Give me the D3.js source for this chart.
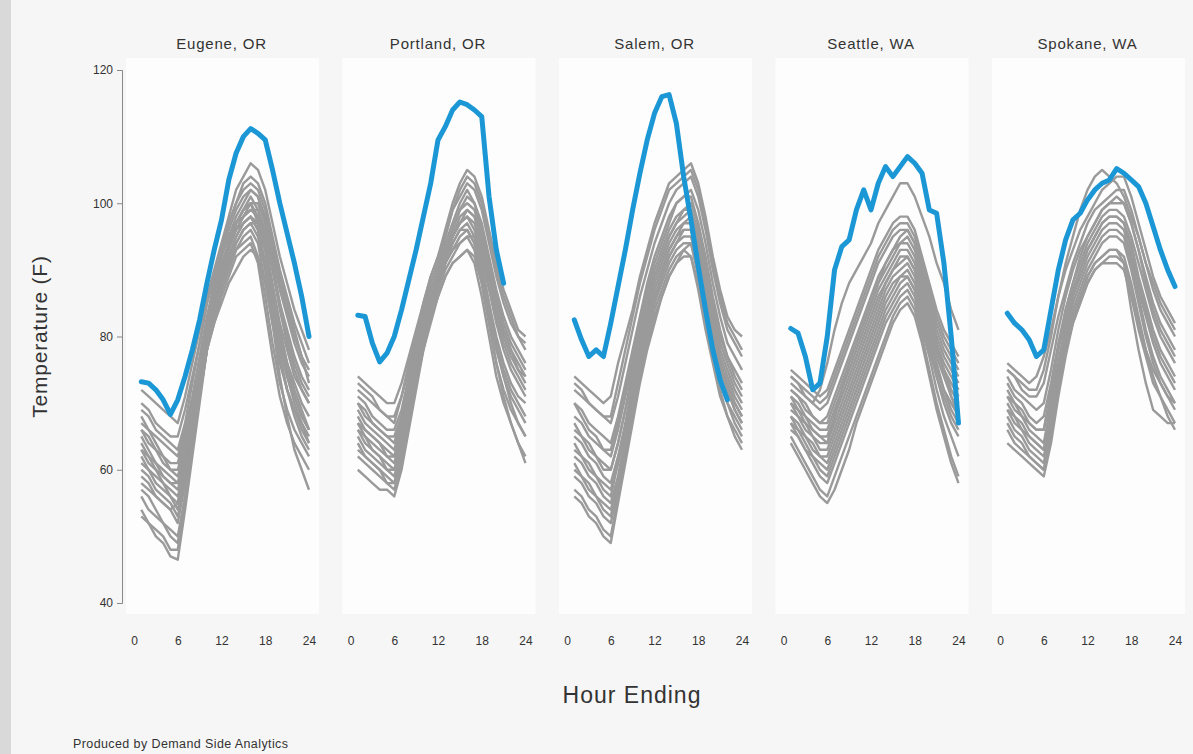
<!DOCTYPE html>
<html>
<head>
<meta charset="utf-8">
<script src="https://cdn.jsdelivr.net/npm/d3@7"></script>
<style>
  body { margin: 0; background: #f6f6f6; }
  svg text { font-family: "Liberation Sans", Arial, sans-serif; fill: #333; }
</style>
</head>
<body>
<div id="chart"></div>
<script>
/* hourly temperatures (F), hour ending 1..24 */
const cities = ["Eugene, OR", "Portland, OR", "Salem, OR", "Seattle, WA", "Spokane, WA"];
const xTicks = [0, 6, 12, 18, 24];
const yTicks = [40, 60, 80, 100, 120];

/* heat wave day (blue) */
const eugeneHeat = [73.2,73,72,70.5,68.3,70.5,74,78,82.5,88,93,97.5,103.5,107.5,110,111.2,110.5,109.5,105,100,95.5,91,86,80];
const portlandHeat = [83.2,83,79,76.2,77.5,80,84,88.5,93,98,103,109.5,111.5,114,115.2,114.8,114,113,101,93,88];
const salemHeat = [82.5,79.5,77,78,77,82,87.5,93,99,104.5,109.5,113.5,116,116.3,112,104,97.5,90.5,84,78,73.5,70.5];
const seattleHeat = [81.2,80.5,77,72,73,80,90,93.5,94.5,99,102,99,103,105.5,104,105.5,107,106,104.5,99,98.5,91,80,67];
const spokaneHeat = [83.5,82,81,79.5,77,78,84,90,94.5,97.5,98.5,100.5,102,103,103.5,105.2,104.5,103.5,102.5,100,96.5,93,90,87.5];

/* other summer days (grey) */
const eugeneDays = [
  [72,71,70,69,68,67,71,76,81,86,90,94,98,102,104,106,105,102,97,92,88,84,81,78],
  [70,69,67,66,65,65,69,74,79,85,89,93,97,100,103,104,103,100,95,90,86,82,79,76],
  [68,66,65,64,63,62,66,71,77,83,88,92,96,99,101,102,101,98,93,88,84,80,77,75],
  [67,66,64,62,61,61,65,70,75,81,86,90,94,97,99,101,99,95,90,85,81,77,74,72],
  [66,64,63,62,60,60,64,69,75,81,86,90,94,97,99,100,100,97,92,87,83,79,76,74],
  [65,63,61,60,59,58,62,67,73,80,85,89,93,96,98,99,98,94,88,82,78,74,72,70],
  [64,62,61,59,58,57,61,67,73,79,84,88,92,95,97,98,97,93,87,81,76,73,70,68],
  [63,61,60,58,57,56,60,66,72,79,84,88,91,94,96,97,95,90,84,78,74,71,68,66],
  [62,60,59,58,56,55,60,66,72,78,83,87,90,93,95,96,94,88,82,76,72,69,67,65],
  [61,60,58,57,56,54,59,65,71,78,83,87,90,93,94,95,92,86,79,73,69,66,64,62],
  [60,59,57,56,55,53,58,65,71,78,82,86,89,92,93,94,91,84,77,71,67,64,62,60],
  [58,57,56,55,54,52,58,65,72,79,85,90,94,97,99,100,97,90,82,74,68,63,60,57],
  [54,52,51,50,48,48,55,63,71,78,82,85,88,90,92,93,92,88,82,77,72,68,65,63],
  [53,52,50,49,47,46.5,54,62,70,78,84,88,91,94,96,97,97,93,87,81,76,72,69,66],
  [69,68,66,65,64,63,67,73,79,85,89,93,97,100,102,103,102,99,94,89,85,81,77,73],
  [57,56,54,52,51,50,56,64,72,80,86,90,94,97,98,99,99,96,90,84,79,75,72,70],
  [66,65,63,61,60,59,63,69,75,82,87,91,94,96,97,98,96,91,84,77,72,69,66,64],
  [59,58,56,55,54,55,60,66,73,80,86,90,94,96,98,100,98,93,86,80,75,71,68,66],
  [63,62,60,59,58,58,62,68,75,82,88,92,95,98,100,102,101,97,91,85,80,76,73,71],
  [56,54,53,52,50,49,56,64,72,79,84,88,92,95,97,98,96,91,85,79,74,70,67,64]
];
const portlandDays = [
  [74,73,72,71,70,70,73,77,81,85,89,92,96,100,103,105,104,101,96,91,87,84,81,80],
  [72,71,70,69,68,68,71,75,80,84,88,91,95,99,101,103,102,99,94,89,85,82,80,78],
  [71,70,68,67,66,66,69,74,79,83,87,90,94,97,100,102,100,96,91,86,82,79,77,75],
  [70,69,67,66,65,64,68,73,78,83,87,90,93,96,99,100,99,95,90,85,81,78,76,74],
  [69,67,66,65,64,63,67,72,77,82,86,89,92,95,98,99,98,94,89,84,80,77,75,73],
  [68,66,65,64,63,62,66,71,76,81,85,89,92,95,97,98,96,92,87,82,78,75,73,71],
  [67,65,64,63,62,61,65,70,76,81,85,88,91,94,96,97,95,90,85,80,76,73,71,70],
  [66,64,63,62,61,60,64,69,75,80,84,88,91,93,95,96,94,89,83,78,74,71,69,67],
  [65,63,62,61,60,59,63,69,75,80,84,87,90,92,94,95,93,88,82,76,72,69,67,65],
  [64,62,61,60,59,58,62,68,74,79,83,86,89,91,92,93,91,86,80,74,70,67,64,62],
  [62,61,60,59,58,57,61,67,73,78,82,86,89,91,92,93,92,88,82,76,71,67,64,61],
  [60,59,58,57,57,56,60,66,72,78,83,87,91,93,94,95,95,91,85,79,74,70,67,65],
  [73,72,71,69,68,67,71,76,80,85,89,92,95,99,102,104,103,100,95,90,86,83,80,79],
  [66,65,63,62,60,60,64,70,76,81,85,89,92,95,97,98,97,93,88,83,79,76,74,72],
  [63,62,61,60,58,58,62,68,74,79,83,87,91,94,96,96,94,89,84,79,75,72,70,68],
  [70,68,67,66,65,65,68,73,78,83,87,90,93,96,99,101,100,97,92,87,83,80,78,76],
  [67,66,65,64,62,62,66,71,77,82,86,89,92,95,97,99,98,95,90,85,81,78,75,74]
];
const salemDays = [
  [74,73,72,71,70,71,76,80,84,89,93,97,100,103,104,105,106,103,98,92,87,83,81,80],
  [72,71,70,69,68,67,71,76,81,86,90,94,97,100,102,103,104,101,96,90,85,81,79,77],
  [70,69,67,66,65,64,68,73,78,83,88,92,95,98,100,101,102,99,94,88,83,79,77,75],
  [68,67,65,64,63,62,66,71,76,81,86,90,93,96,98,99,100,97,92,86,81,77,75,73],
  [67,65,64,62,61,60,64,69,74,80,85,89,92,95,97,98,99,96,90,84,79,76,73,71],
  [65,64,62,61,59,58,62,67,73,79,84,88,91,94,96,97,98,94,88,82,77,74,71,69],
  [64,62,61,59,58,57,61,66,72,78,83,87,90,93,95,96,96,92,86,80,75,72,69,67],
  [62,61,59,58,56,55,59,65,71,77,82,86,89,92,94,95,95,91,85,79,74,70,67,65],
  [61,59,58,56,55,54,58,64,70,76,81,85,88,91,93,94,94,89,83,77,72,68,65,63],
  [59,58,56,55,53,52,57,63,69,75,80,84,87,90,92,93,92,87,81,76,71,68,66,64],
  [57,56,54,53,51,50,56,62,68,74,79,83,86,89,91,92,92,88,82,77,73,70,68,66],
  [56,55,53,52,50,49,55,61,67,73,78,82,86,89,91,93,94,90,85,80,76,73,70,68],
  [73,72,70,69,68,68,73,78,83,88,92,96,99,102,103,104,105,102,97,91,86,82,80,78],
  [70,68,66,65,63,63,67,72,77,82,87,91,94,97,100,101,101,97,91,85,80,77,74,72],
  [66,65,63,62,60,60,64,69,75,80,85,89,92,95,97,99,99,95,89,83,78,75,72,70],
  [63,62,60,59,57,56,61,66,72,78,83,87,90,93,95,97,97,93,87,81,76,73,70,68],
  [60,59,57,56,54,53,58,64,70,76,81,85,89,92,94,96,96,92,86,80,76,72,69,67]
];
const seattleDays = [
  [74,73,71,70,72,76,81,85,88,90,92,94,97,99,101,103,103,101,98,95,91,88,84,81],
  [75,74,73,72,71,72,75,78,81,84,87,90,93,95,97,98,98,96,92,88,84,81,79,77],
  [73,72,71,70,69,70,73,76,79,82,85,88,91,93,95,96,96,94,90,86,82,79,77,75],
  [72,71,70,68,67,68,71,74,77,80,83,86,89,91,93,94,95,93,89,85,81,78,76,74],
  [71,70,68,67,66,66,69,72,75,78,81,84,87,89,91,93,93,91,87,83,79,76,74,72],
  [70,69,67,66,65,65,68,71,74,77,80,83,86,88,90,92,92,90,86,82,78,75,72,70],
  [69,68,66,65,63,63,66,69,72,75,78,81,84,87,89,90,91,89,85,81,77,74,71,69],
  [68,67,65,63,62,62,65,68,71,74,77,80,83,86,88,89,90,88,84,80,76,72,69,67],
  [67,66,64,62,61,60,63,66,69,72,75,78,81,84,86,88,89,87,83,79,74,70,67,65],
  [66,65,63,61,59,58,61,64,67,70,73,76,79,82,84,86,87,85,81,77,72,68,65,62],
  [65,63,61,59,57,56,59,62,65,68,71,74,77,80,83,85,86,84,80,75,70,66,62,59],
  [64,62,60,58,56,55,57,60,63,67,70,73,76,79,82,84,85,83,79,74,69,65,61,58],
  [74,73,72,71,70,71,74,77,80,83,86,89,92,94,96,97,97,95,91,87,83,80,78,76],
  [70,68,67,65,64,64,67,70,73,76,79,82,85,88,90,91,92,90,86,82,78,75,73,71],
  [67,65,63,62,60,59,62,65,68,71,74,77,80,83,85,87,88,86,82,78,74,71,68,66],
  [72,71,69,68,67,67,70,73,76,79,82,85,88,90,92,94,94,92,88,84,80,77,75,73],
  [68,66,65,64,62,61,64,67,70,73,76,79,82,85,87,89,89,87,83,79,75,72,70,68],
  [71,69,68,66,65,64,68,72,76,79,82,85,88,91,93,95,96,94,89,84,79,75,71,68]
];
const spokaneDays = [
  [76,75,74,73,74,77,81,86,90,93,96,98,100,102,103,104,104,101,97,93,89,86,84,82],
  [75,74,72,71,71,73,78,83,87,91,94,97,99,100,101,102,102,99,95,91,87,84,82,80],
  [74,72,71,70,69,70,75,81,86,90,93,95,97,99,100,100,100,97,93,89,85,82,80,78],
  [73,71,70,68,67,68,73,79,84,88,91,94,96,98,99,99,98,95,91,87,83,80,78,76],
  [72,70,69,67,66,66,72,78,83,87,90,93,95,97,98,98,97,94,89,85,81,78,76,74],
  [71,69,68,66,65,64,70,76,82,86,89,92,94,96,97,97,96,92,87,83,79,76,74,72],
  [70,68,67,65,64,63,69,75,81,85,88,91,93,95,96,96,95,91,86,81,77,74,72,70],
  [69,67,66,64,63,62,67,74,80,84,87,90,92,94,95,95,94,90,85,80,76,73,71,69],
  [68,66,65,63,62,61,66,73,79,83,86,89,91,92,93,93,92,88,83,78,74,71,69,67],
  [67,65,64,62,61,60,65,72,78,82,85,88,90,91,91,91,90,86,81,77,73,71,68,66],
  [66,64,63,62,61,60,65,72,78,83,86,89,91,92,93,93,91,84,78,73,69,68,67,67],
  [75,74,73,72,72,75,80,86,91,95,99,102,104,105,104,103,101,98,95,91,88,85,83,81],
  [64,63,62,61,60,59,64,71,77,82,85,88,90,91,92,92,91,87,82,78,75,73,71,70],
  [71,70,68,67,66,66,71,78,84,88,92,95,97,99,100,101,100,97,93,88,84,81,79,77],
  [69,68,66,65,64,63,68,75,81,86,90,93,95,97,98,98,97,93,88,84,80,77,75,73]
];

const heatDays = [eugeneHeat, portlandHeat, salemHeat, seattleHeat, spokaneHeat];
const otherDays = [eugeneDays, portlandDays, salemDays, seattleDays, spokaneDays];

const w = 1193;
const h = 754;
const plotTop = 70, plotBottom = 603;
const panelStart = 134, panelStep = 216.5, panelWidth = 175;

const svg = d3.select("#chart")
  .append("svg")
  .attr("width", w)
  .attr("height", h);

svg.append("rect").attr("width", w).attr("height", h).attr("fill", "#f6f6f6");
svg.append("rect").attr("width", 11).attr("height", h).attr("fill", "#d9d9d9");

const yScale = d3.scaleLinear()
  .domain([40, 120])
  .range([plotBottom, plotTop]);

const line = (xScale) => d3.line()
  .x((d, i) => xScale(i + 1))
  .y(d => yScale(d));

cities.forEach((city, c) => {
  const x0 = panelStart + c * panelStep;
  const xScale = d3.scaleLinear()
    .domain([0, 24])
    .range([x0, x0 + panelWidth]);

  const g = svg.append("g");

  // panel background
  g.append("rect")
    .attr("x", x0 - 8)
    .attr("y", 58)
    .attr("width", panelWidth + 18)
    .attr("height", 556)
    .attr("fill", "#fdfdfd");

  g.append("text")
    .attr("x", x0 + panelWidth / 2)
    .attr("y", 49)
    .attr("text-anchor", "middle")
    .style("font-size", "15px")
    .style("letter-spacing", "0.8px")
    .text(city);

  g.selectAll("path.day")
    .data(otherDays[c])
    .enter()
    .append("path")
    .attr("class", "day")
    .attr("d", line(xScale))
    .attr("fill", "none")
    .attr("stroke", "#9a9a9a")
    .attr("stroke-width", 2.4)
    .attr("stroke-linejoin", "round");

  g.append("path")
    .datum(heatDays[c])
    .attr("d", line(xScale))
    .attr("fill", "none")
    .attr("stroke", "#1b97d6")
    .attr("stroke-width", 5)
    .attr("stroke-linejoin", "round")
    .attr("stroke-linecap", "round");

  const xAxis = d3.axisBottom(xScale)
    .tickValues(xTicks)
    .tickSize(0)
    .tickPadding(0);

  const ax = g.append("g")
    .attr("transform", "translate(0," + (plotBottom + 33) + ")")
    .call(xAxis);
  ax.select(".domain").remove();
  ax.selectAll("text").style("font-size", "12px").attr("fill", "#333");
});

const yAxis = d3.axisLeft(yScale)
  .tickValues(yTicks)
  .tickSize(5)
  .tickPadding(4);

const ay = svg.append("g")
  .attr("transform", "translate(122,0)")
  .call(yAxis);
ay.select(".domain").attr("stroke", "#888");
ay.selectAll(".tick line").attr("stroke", "#888");
ay.selectAll("text").style("font-size", "12px").attr("fill", "#333");

svg.append("text")
  .attr("transform", "translate(47," + (plotTop + plotBottom) / 2 + ") rotate(-90)")
  .attr("text-anchor", "middle")
  .style("font-size", "21px")
  .style("letter-spacing", "0.8px")
  .text("Temperature (F)");

svg.append("text")
  .attr("x", 632)
  .attr("y", 703)
  .attr("text-anchor", "middle")
  .style("font-size", "23px")
  .style("letter-spacing", "1px")
  .text("Hour Ending");

svg.append("text")
  .attr("x", 73)
  .attr("y", 748)
  .style("font-size", "12.5px")
  .style("letter-spacing", "0.4px")
  .text("Produced by Demand Side Analytics");
</script>
</body>
</html>
